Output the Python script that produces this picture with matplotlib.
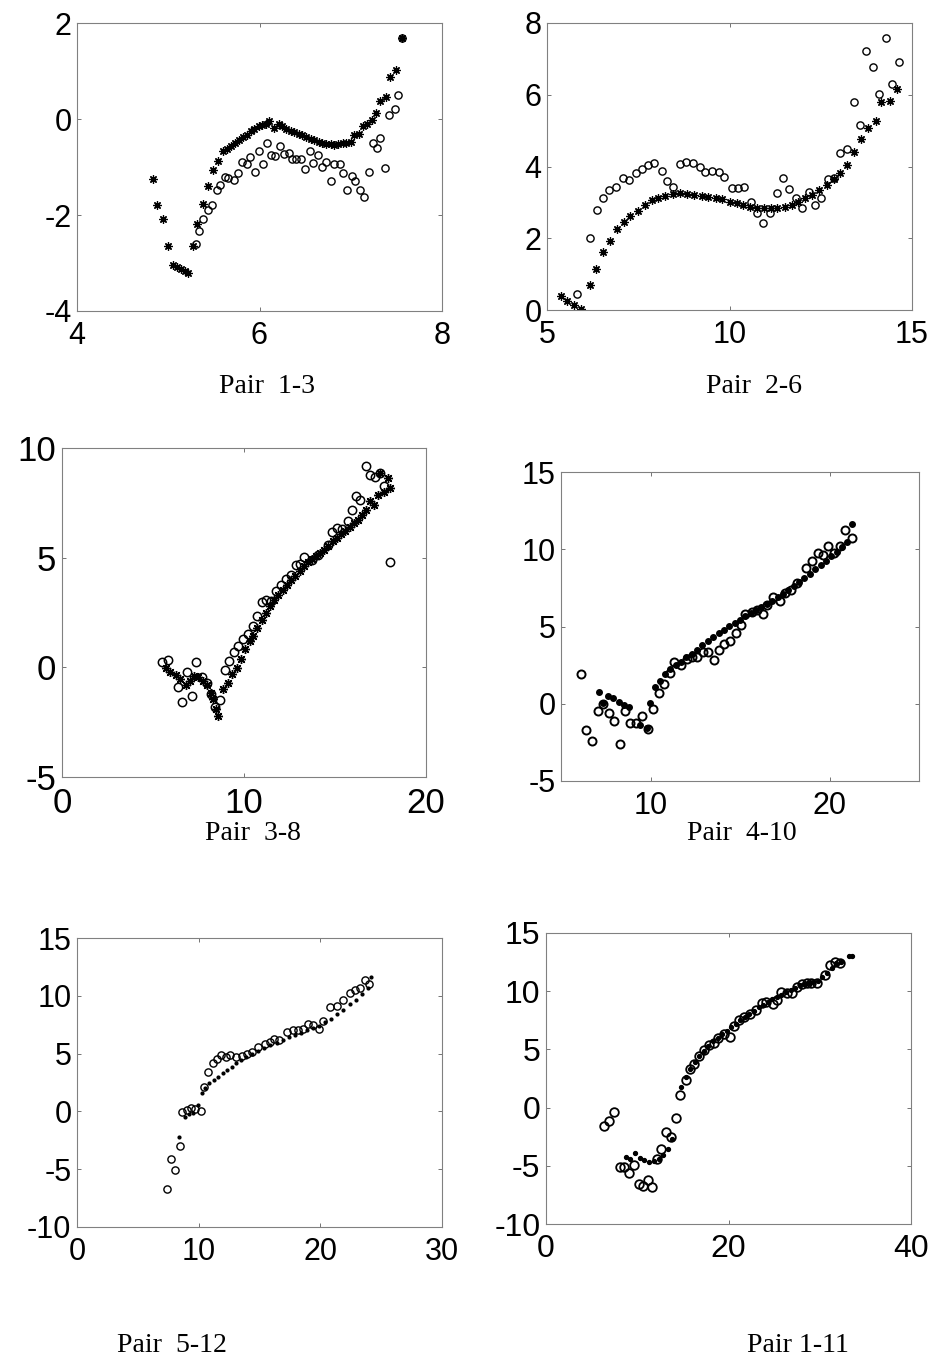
import numpy as np
import matplotlib
matplotlib.use("Agg")
import matplotlib.pyplot as plt

W, H = 935, 1361

# Pair 1-3
p1_star_x = [4.83, 4.88, 4.94, 5.00, 5.05, 5.10, 5.14, 5.18, 5.22, 5.27, 5.32, 5.38, 5.44, 5.49,
             5.54, 5.60, 5.64, 5.69, 5.73, 5.78, 5.82, 5.86, 5.91, 5.94, 5.99, 6.03, 6.07, 6.10,
             6.16, 6.21, 6.25, 6.29, 6.34, 6.38, 6.43, 6.47, 6.51, 6.56, 6.60, 6.65, 6.69, 6.73,
             6.78, 6.82, 6.86, 6.91, 6.95, 7.00, 7.04, 7.09, 7.13, 7.18, 7.23, 7.28, 7.32, 7.39,
             7.43, 7.50, 7.56]
p1_star_y = [-1.24, -1.80, -2.09, -2.64, -3.05, -3.09, -3.13, -3.17, -3.20, -2.64, -2.19, -1.78,
             -1.40, -1.07, -0.88, -0.67, -0.63, -0.56, -0.50, -0.44, -0.38, -0.33, -0.26, -0.20,
             -0.15, -0.12, -0.10, -0.04, -0.19, -0.10, -0.14, -0.20, -0.24, -0.28, -0.31, -0.34,
             -0.38, -0.41, -0.44, -0.47, -0.50, -0.52, -0.53, -0.54, -0.53, -0.51, -0.49, -0.47,
             -0.33, -0.31, -0.15, -0.10, -0.02, 0.12, 0.37, 0.46, 0.88, 1.02, 1.68]
p1_circ_x = [5.30, 5.34, 5.38, 5.44, 5.48, 5.53, 5.57, 5.62, 5.66, 5.72, 5.76, 5.81, 5.86, 5.90,
             5.95, 5.99, 6.04, 6.08, 6.13, 6.17, 6.22, 6.27, 6.32, 6.36, 6.40, 6.46, 6.50, 6.55,
             6.59, 6.64, 6.68, 6.73, 6.78, 6.82, 6.88, 6.92, 6.96, 7.01, 7.05, 7.10, 7.15, 7.20,
             7.24, 7.29, 7.32, 7.38, 7.42, 7.48, 7.52, 7.56]
p1_circ_y = [-2.60, -2.33, -2.08, -1.90, -1.79, -1.47, -1.38, -1.21, -1.23, -1.28, -1.13, -0.90,
             -0.93, -0.79, -1.10, -0.67, -0.93, -0.50, -0.74, -0.77, -0.56, -0.72, -0.70, -0.84,
             -0.84, -0.83, -1.05, -0.67, -0.92, -0.76, -1.00, -0.90, -1.29, -0.93, -0.93, -1.12,
             -1.47, -1.19, -1.29, -1.47, -1.63, -1.10, -0.51, -0.60, -0.40, -1.02, 0.09, 0.20,
             0.51, 1.69]

# Pair 2-6
p2_star_x = [5.37, 5.55, 5.73, 5.94, 6.17, 6.35, 6.53, 6.73, 6.91, 7.10, 7.28, 7.48, 7.69, 7.87,
             8.05, 8.24, 8.44, 8.65, 8.83, 9.03, 9.24, 9.42, 9.62, 9.80, 10.01, 10.20, 10.38,
             10.56, 10.74, 10.94, 11.13, 11.31, 11.52, 11.70, 11.88, 12.07, 12.27, 12.46, 12.68,
             12.86, 13.04, 13.23, 13.40, 13.59, 13.80, 14.00, 14.16, 14.39, 14.59]
p2_star_y = [0.40, 0.25, 0.14, 0.03, 0.70, 1.14, 1.61, 1.92, 2.26, 2.46, 2.63, 2.77, 2.94, 3.06,
             3.13, 3.18, 3.22, 3.25, 3.23, 3.20, 3.18, 3.16, 3.13, 3.09, 3.02, 2.97, 2.92, 2.88,
             2.85, 2.83, 2.83, 2.85, 2.88, 2.92, 3.00, 3.11, 3.20, 3.34, 3.48, 3.65, 3.81, 4.04,
             4.41, 4.78, 5.06, 5.26, 5.80, 5.82, 6.15]
p2_circ_x = [5.82, 6.17, 6.37, 6.53, 6.71, 6.90, 7.08, 7.25, 7.43, 7.60, 7.76, 7.94, 8.15, 8.28,
             8.46, 8.65, 8.81, 8.99, 9.18, 9.34, 9.53, 9.71, 9.86, 10.06, 10.24, 10.41, 10.58,
             10.76, 10.93, 11.11, 11.29, 11.46, 11.63, 11.82, 11.99, 12.17, 12.35, 12.52, 12.69,
             12.87, 13.04, 13.22, 13.40, 13.57, 13.75, 13.93, 14.10, 14.28, 14.46, 14.64]
p2_circ_y = [0.44, 2.02, 2.78, 3.11, 3.34, 3.42, 3.67, 3.62, 3.83, 3.94, 4.04, 4.10, 3.88, 3.59,
             3.42, 4.06, 4.13, 4.10, 3.99, 3.85, 3.88, 3.85, 3.71, 3.39, 3.39, 3.43, 3.02, 2.69,
             2.43, 2.71, 3.27, 3.68, 3.37, 3.11, 2.85, 3.30, 2.94, 3.13, 3.65, 3.68, 4.39, 4.50,
             5.80, 5.17, 7.21, 6.76, 6.03, 7.58, 6.31, 6.90]

# Pair 3-8
p3_star_x = [5.74, 5.96, 6.26, 6.51, 6.84, 7.06, 7.25, 7.49, 7.76, 7.98, 8.17, 8.31, 8.46, 8.59,
             8.83, 9.10, 9.36, 9.60, 9.82, 10.06, 10.33, 10.51, 10.73, 10.97, 11.21, 11.43, 11.65,
             11.89, 12.13, 12.35, 12.57, 12.81, 13.05, 13.27, 13.49, 13.72, 13.96, 14.18, 14.40,
             14.64, 14.88, 15.10, 15.32, 15.56, 15.80, 16.02, 16.24, 16.48, 16.72, 16.94, 17.12,
             17.39, 17.49, 17.67, 17.89, 18.04]
p3_star_y = [-0.03, -0.21, -0.36, -0.52, -0.82, -0.61, -0.41, -0.46, -0.64, -0.82, -1.15, -1.45,
             -1.90, -2.20, -0.99, -0.71, -0.30, -0.05, 0.38, 0.84, 1.19, 1.41, 1.79, 2.17, 2.48,
             2.78, 3.09, 3.31, 3.54, 3.77, 3.97, 4.15, 4.38, 4.60, 4.79, 4.94, 5.06, 5.21, 5.36,
             5.55, 5.74, 5.90, 6.08, 6.20, 6.40, 6.58, 6.73, 6.96, 7.16, 7.57, 7.42, 7.87, 8.84,
             7.98, 8.63, 8.18]
p3_circ_x = [5.52, 5.83, 6.35, 6.62, 6.88, 7.12, 7.39, 7.67, 7.94, 8.18, 8.40, 8.68, 8.95, 9.19,
             9.45, 9.69, 9.96, 10.24, 10.51, 10.73, 10.99, 11.21, 11.47, 11.76, 12.04, 12.31,
             12.57, 12.83, 13.05, 13.30, 13.72, 14.09, 14.64, 14.83, 15.10, 15.38, 15.71, 15.93,
             16.17, 16.39, 16.72, 16.94, 17.21, 17.49, 17.71, 18.04]
p3_circ_y = [0.26, 0.35, -0.91, -1.60, -0.21, -1.32, 0.24, -0.44, -0.71, -1.20, -1.81, -1.47,
             -0.11, 0.27, 0.68, 0.96, 1.31, 1.53, 1.87, 2.36, 2.96, 3.09, 3.01, 3.47, 3.77, 4.03,
             4.22, 4.68, 4.71, 5.03, 4.91, 5.14, 5.59, 6.16, 6.35, 6.31, 6.66, 7.16, 7.80, 7.61,
             9.19, 8.78, 8.68, 8.86, 8.28, 4.79]

# Pair 4-10
p4_dot_x = [7.10, 7.34, 7.62, 7.90, 8.22, 8.50, 8.81, 9.43, 9.80, 9.99, 10.23, 10.51, 10.82,
            11.10, 11.40, 11.70, 12.00, 12.30, 12.60, 12.90, 13.20, 13.50, 13.80, 14.10, 14.40,
            14.70, 15.00, 15.30, 15.60, 15.90, 16.20, 16.50, 16.80, 17.10, 17.40, 17.70, 18.00,
            18.30, 18.60, 18.90, 19.20, 19.50, 19.80, 20.10, 20.40, 20.70, 21.00, 21.28]
p4_dot_y = [0.79, 0.02, 0.51, 0.36, 0.14, -0.08, -0.18, -1.37, -1.59, 0.03, 1.07, 1.50, 1.93,
            2.24, 2.50, 2.70, 3.00, 3.25, 3.50, 3.80, 4.05, 4.35, 4.60, 4.80, 5.05, 5.25, 5.45,
            5.70, 5.90, 6.05, 6.25, 6.45, 6.65, 6.90, 7.10, 7.35, 7.60, 7.90, 8.15, 8.40, 8.70,
            9.00, 9.25, 9.55, 9.85, 10.15, 10.45, 11.65]
p4_circ_x = [6.13, 6.41, 6.75, 7.05, 7.34, 7.66, 7.98, 8.31, 8.59, 8.87, 9.19, 9.52, 9.84, 10.13,
             10.45, 10.77, 11.10, 11.33, 11.70, 12.03, 12.31, 12.59, 12.91, 13.20, 13.52, 13.80,
             14.12, 14.45, 14.77, 15.07, 15.29, 15.66, 15.94, 16.27, 16.53, 16.83, 17.24, 17.52,
             17.84, 18.17, 18.69, 19.01, 19.33, 19.62, 19.94, 20.27, 20.59, 20.87, 21.24]
p4_circ_y = [1.93, -1.70, -2.39, -0.46, -0.01, -0.62, -1.09, -2.60, -0.46, -1.22, -1.22, -0.79,
             -1.65, -0.36, 0.68, 1.29, 1.98, 2.67, 2.52, 2.88, 3.01, 3.01, 3.32, 3.38, 2.80, 3.49,
             3.88, 4.03, 4.61, 5.11, 5.82, 5.97, 6.08, 5.80, 6.40, 6.94, 6.62, 7.16, 7.38, 7.81,
             8.78, 9.21, 9.75, 9.64, 10.23, 9.75, 10.23, 11.26, 10.72]

# Pair 5-12
p5_dot_x = [8.37, 8.87, 9.22, 9.55, 9.91, 10.24, 10.51, 10.87, 11.25, 11.61, 11.97, 12.35, 12.71,
            13.07, 13.45, 13.90, 14.40, 14.90, 15.40, 15.90, 16.40, 16.90, 17.40, 17.90, 18.40,
            18.90, 19.40, 19.90, 20.40, 20.90, 21.40, 21.90, 22.40, 22.90, 23.40, 23.90, 24.15]
p5_dot_y = [-2.23, -0.45, -0.25, -0.16, 0.56, 1.57, 2.00, 2.50, 2.72, 3.00, 3.30, 3.60, 3.87,
            4.16, 4.44, 4.70, 4.95, 5.25, 5.50, 5.75, 5.95, 6.15, 6.40, 6.60, 6.80, 7.00, 7.20,
            7.40, 7.70, 8.00, 8.40, 8.80, 9.25, 9.65, 10.15, 10.65, 11.60]
p5_circ_x = [7.41, 7.71, 8.04, 8.45, 8.67, 9.00, 9.33, 9.69, 10.18, 10.43, 10.79, 11.20, 11.47,
             11.83, 12.24, 12.57, 13.07, 13.53, 13.94, 14.36, 14.91, 15.45, 15.87, 16.20, 16.64,
             17.24, 17.79, 18.20, 18.56, 19.02, 19.43, 19.85, 20.20, 20.81, 21.36, 21.85, 22.40,
             22.87, 23.28, 23.69, 24.02]
p5_circ_y = [-6.72, -4.13, -5.11, -2.98, -0.02, 0.13, 0.27, 0.18, 0.07, 2.08, 3.44, 4.15, 4.50,
             4.87, 4.73, 4.87, 4.73, 4.79, 4.96, 5.16, 5.59, 5.82, 6.02, 6.23, 6.17, 6.89, 7.03,
             7.03, 7.17, 7.55, 7.46, 7.17, 7.84, 8.99, 9.10, 9.62, 10.20, 10.54, 10.71, 11.35,
             11.00]

# Pair 1-11
p6_dot_x = [8.80, 9.24, 9.79, 10.34, 10.78, 11.25, 11.80, 12.35, 12.82, 13.33, 13.81, 14.80,
            15.30, 15.80, 16.30, 16.80, 17.30, 17.80, 18.30, 18.80, 19.30, 19.80, 20.30, 20.80,
            21.30, 21.80, 22.30, 22.80, 23.30, 23.80, 24.30, 24.80, 25.30, 25.80, 26.30, 26.80,
            27.30, 27.80, 28.30, 28.80, 29.30, 29.80, 30.30, 30.80, 31.30, 31.80, 32.30, 33.17,
            33.53]
p6_dot_y = [-4.27, -4.44, -3.93, -4.37, -4.51, -4.66, -4.57, -4.44, -4.07, -3.58, -2.72, 1.74,
            2.60, 3.30, 3.90, 4.40, 4.90, 5.30, 5.70, 6.00, 6.30, 6.60, 6.90, 7.20, 7.50, 7.80,
            8.00, 8.30, 8.60, 8.80, 9.10, 9.30, 9.50, 9.70, 9.90, 10.10, 10.30, 10.50, 10.60,
            10.70, 10.80, 10.90, 11.20, 11.60, 12.00, 12.40, 12.50, 13.02, 13.02]
p6_circ_x = [6.39, 6.94, 7.49, 8.07, 8.51, 9.06, 9.61, 10.16, 10.63, 11.14, 11.62, 12.16, 12.64,
             13.19, 13.73, 14.28, 14.72, 15.34, 15.74, 16.26, 16.73, 17.28, 17.83, 18.37, 18.85,
             19.47, 20.13, 20.57, 21.12, 21.67, 22.39, 23.02, 23.67, 24.15, 24.88, 25.33, 25.80,
             26.42, 26.97, 27.51, 28.06, 28.60, 29.04, 29.70, 30.54, 31.09, 31.71, 32.18]
p6_circ_y = [-1.55, -1.12, -0.35, -5.07, -5.13, -5.59, -4.93, -6.60, -6.75, -6.22, -6.85, -4.42,
             -3.54, -2.10, -2.50, -0.87, 1.08, 2.37, 3.34, 3.74, 4.42, 4.95, 5.38, 5.52, 5.95,
             6.33, 6.04, 7.01, 7.53, 7.81, 8.04, 8.38, 8.96, 9.05, 8.88, 9.24, 9.96, 9.82, 9.88,
             10.39, 10.59, 10.68, 10.68, 10.68, 11.40, 12.25, 12.54, 12.45]

asterisk = (8, 2, 0)


def make_axes(fig, left, top, right, bottom):
    return fig.add_axes([left / W, 1 - bottom / H, (right - left) / W, (bottom - top) / H])


def style_axes(ax, xlim, ylim, xticks, yticks, fs=22):
    ax.set_xlim(xlim)
    ax.set_ylim(ylim)
    ax.set_xticks(xticks)
    ax.set_yticks(yticks)
    ax.set_xticklabels([str(t) for t in xticks])
    ax.set_yticklabels([str(t) for t in yticks])
    ax.tick_params(direction="in", top=True, right=True, length=3, width=0.7,
                   color="0.45", labelsize=fs)
    ax.tick_params(axis="x", pad=7.5)
    ax.tick_params(axis="y", pad=4)
    for s in ax.spines.values():
        s.set_color("0.5")
        s.set_linewidth(0.8)


plt.rcParams["font.family"] = ["Liberation Sans", "DejaVu Sans"]
fig = plt.figure(figsize=(W / 100, H / 100), dpi=100)

circ = dict(linestyle="none", marker="o", mfc="none", mec="black")

ax1 = make_axes(fig, 77, 23, 442, 311)
ax1.plot(p1_circ_x, p1_circ_y, ms=5.2, mew=1.0, **circ)
ax1.plot(p1_star_x, p1_star_y, linestyle="none", marker=asterisk, ms=6, mew=0.9, color="black")
style_axes(ax1, (4, 8), (-4, 2), [4, 6, 8], [-4, -2, 0, 2])

ax2 = make_axes(fig, 547, 23, 912, 310)
ax2.plot(p2_circ_x, p2_circ_y, ms=5.2, mew=1.0, **circ)
ax2.plot(p2_star_x, p2_star_y, linestyle="none", marker=asterisk, ms=6, mew=0.9, color="black")
style_axes(ax2, (5, 15), (0, 8), [5, 10, 15], [0, 2, 4, 6, 8])

ax3 = make_axes(fig, 62, 448, 426, 777)
ax3.plot(p3_circ_x, p3_circ_y, ms=6, mew=1.1, **circ)
ax3.plot(p3_star_x, p3_star_y, linestyle="none", marker=asterisk, ms=6.5, mew=1.0, color="black")
style_axes(ax3, (0, 20), (-5, 10), [0, 10, 20], [-5, 0, 5, 10], fs=25)

ax4 = make_axes(fig, 561, 472, 919, 781)
ax4.plot(p4_circ_x, p4_circ_y, ms=5.8, mew=1.4, **circ)
ax4.plot(p4_dot_x, p4_dot_y, linestyle="none", marker="o", ms=4, color="black")
style_axes(ax4, (5, 25), (-5, 15), [10, 20], [-5, 0, 5, 10, 15])

ax5 = make_axes(fig, 77, 938, 442, 1227)
ax5.plot(p5_circ_x, p5_circ_y, ms=5.2, mew=1.0, **circ)
ax5.plot(p5_dot_x, p5_dot_y, linestyle="none", marker="o", ms=2, color="black")
style_axes(ax5, (0, 30), (-10, 15), [0, 10, 20, 30], [-10, -5, 0, 5, 10, 15])

ax6 = make_axes(fig, 546, 933, 911, 1224)
ax6.plot(p6_circ_x, p6_circ_y, ms=6.2, mew=1.3, **circ)
ax6.plot(p6_dot_x, p6_dot_y, linestyle="none", marker="o", ms=2.8, color="black")
style_axes(ax6, (0, 40), (-10, 15), [0, 20, 40], [-10, -5, 0, 5, 10, 15], fs=23)

captions = [("Pair  1-3", 267, 393), ("Pair  2-6", 754, 393), ("Pair  3-8", 253, 840),
            ("Pair  4-10", 742, 840), ("Pair  5-12", 172, 1352), ("Pair 1-11", 798, 1352)]
for txt, cx, cy in captions:
    fig.text(cx / W, 1 - cy / H, txt, ha="center", va="baseline", fontsize=20,
             family=["Liberation Serif", "DejaVu Serif"])

fig.savefig("out.png", dpi=100)
